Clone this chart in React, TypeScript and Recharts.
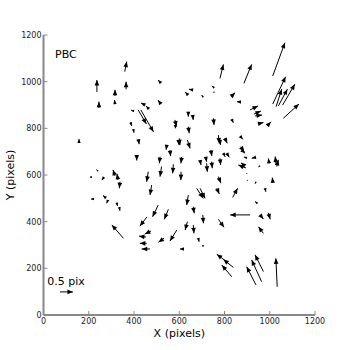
import React from 'react';
import { LineChart, Line, XAxis, YAxis } from 'recharts';

// tail positions (pixels) and displacement (pixels, already scaled for the plot)
const arrowX = [
  236, 359, 365, 519, 316, 245, 316, 449, 466, 519, 400, 418, 430, 385, 397, 581,
  1013, 780, 886, 1013, 1028, 1038, 1057, 1060, 754, 755, 661, 639, 705, 829, 873, 913,
  930, 935, 948, 988, 640, 659, 751, 832, 640, 157, 419, 412, 545, 559, 515, 574,
  596, 241, 214, 316, 329, 267, 338, 463, 522, 478, 223, 276, 285, 324, 335, 507,
  552, 600, 636, 773, 780, 802, 869, 872, 876, 611, 740, 692, 717, 721, 743, 780,
  795, 810, 608, 899, 939, 895, 891, 957, 997, 1028, 1031, 773, 898, 901, 939, 1014,
  979, 677, 692, 766, 836, 640, 662, 704, 945, 913, 957, 994, 457, 353, 453, 475,
  533, 456, 471, 589, 636, 662, 773, 621, 684, 705, 972, 810, 839, 832, 939, 964,
  972, 1033, 581,
];
const arrowY = [
  956, 1043, 967, 994, 939, 887, 904, 900, 883, 904, 874, 879, 879, 825, 796, 836,
  1024, 1014, 993, 904, 893, 896, 900, 843, 973, 955, 964, 943, 934, 936, 913, 879,
  861, 853, 819, 810, 871, 857, 843, 839, 807, 737, 753, 686, 729, 707, 678, 646,
  750, 617, 591, 596, 579, 591, 571, 614, 636, 557, 497, 501, 493, 481, 462, 471,
  453, 757, 750, 771, 750, 757, 767, 721, 707, 678, 707, 664, 678, 650, 657, 672,
  693, 693, 614, 673, 676, 630, 639, 639, 650, 643, 636, 593, 607, 579, 571, 567,
  543, 543, 543, 543, 504, 514, 464, 429, 479, 429, 429, 438, 420, 329, 334, 360,
  329, 307, 283, 364, 400, 386, 410, 283, 329, 300, 350, 228, 204, 164, 129, 143,
  186, 121, 814,
];
const arrowU = [
  0, 9, 0, -13, 0, 0, -2, -18, -13, -13, -13, 37, 56, 5, 3, 7,
  54, 15, 34, 57, 25, 40, 54, 69, -9, -4, -18, -13, -6, 18, -18, 35,
  31, 31, 24, 18, 0, 3, 3, 7, 4, 0, 4, 0, -3, 3, -3, -3,
  3, -7, -9, -9, -4, -9, -3, -7, -7, -7, -13, -13, -6, 3, 3, -25,
  -18, 3, 12, 4, 2, 10, 12, 15, 15, -4, 4, 4, 4, 3, 3, 3,
  8, 11, -1, -13, -19, -34, -18, -7, -3, -4, 7, 11, 2, 0, -4, -3,
  4, 29, 22, 11, 22, -7, 4, 3, -10, -88, 15, 8, -31, -51, -31, -27,
  -25, -30, -37, -30, -10, 3, 25, -18, 4, 0, -22, -44, -44, -44, -41, -44,
  -37, -6, 3,
];
const arrowV = [
  51, 43, 33, 13, 26, 27, 17, 9, 13, 17, 4, -60, -94, -15, -15, -29,
  143, 60, 81, 117, 75, 72, 89, 61, 9, 0, 4, 13, 9, 17, 1, 17,
  13, 4, 6, 18, -21, -21, -29, -15, -28, 17, -21, -24, -21, -26, -28, -39,
  -21, 6, 0, 26, 26, -13, -28, -43, -43, -43, 0, 11, -14, -14, -15, -50,
  -43, -29, -36, -36, -21, -21, -14, -21, -14, -28, -26, -21, -21, -36, -28, -29,
  -15, -17, -36, 4, -4, 13, 13, -4, 21, 36, 29, -28, -2, -3, -8, 22,
  -15, -43, -43, -24, 39, -43, -28, -36, 7, 0, -18, -28, -39, 57, 4, -13,
  -17, 0, 0, -47, -36, -36, -34, 0, -15, -8, 28, 32, 34, 50, 78, 93,
  72, 122, -14,
];

// the "0.5 pix" key arrow
const keyX = [73];
const keyY = [99];
const keyU = [57];
const keyV = [0];

const axisTicks = [0, 200, 400, 600, 800, 1000, 1200];

const FONT = '"DejaVu Sans", Verdana, sans-serif';
const FRAME = '#888';

const allX = arrowX.concat(keyX);
const allY = arrowY.concat(keyY);
const allU = arrowU.concat(keyU);
const allV = arrowV.concat(keyV);

const segments = allX.map((x, i) => [
  { x, y: allY[i], u: allU[i], v: allV[i] },
  { x: x + allU[i], y: allY[i] + allV[i], u: allU[i], v: allV[i] },
]);

const ArrowHead = (props: any) => {
  const { cx, cy, index, points, payload } = props;
  if (index !== 1 || cx == null || cy == null) return <g key={`d-${index}`} />;
  let dx: number;
  let dy: number;
  if (points && points[0] && points[0].x != null) {
    dx = cx - points[0].x;
    dy = cy - points[0].y;
  } else {
    dx = (payload.u * 271.5) / 1200;
    dy = (-payload.v * 280) / 1200;
  }
  const len = Math.hypot(dx, dy);
  if (len < 0.3) return <circle key={`d-${index}`} cx={cx} cy={cy} r={0.6} fill="#000" />;
  const ux = dx / len;
  const uy = dy / len;
  const hl = Math.min(5.5, len);
  const hw = Math.max(hl * 0.42, 0.8);
  const bx = cx - ux * hl;
  const by = cy - uy * hl;
  const pts = `${cx},${cy} ${bx - uy * hw},${by + ux * hw} ${bx + uy * hw},${by - ux * hw}`;
  return <polygon key={`d-${index}`} points={pts} fill="#000" />;
};

const BottomTick = (props: any) => {
  const { x, y, payload } = props;
  return (
    <g>
      <line x1={x} y1={y} x2={x} y2={y - 4} stroke={FRAME} strokeWidth={1} />
      <text x={x} y={y + 9} textAnchor="middle" fontSize={8} fontFamily={FONT} fill="#222">
        {payload.value}
      </text>
    </g>
  );
};

const TopTick = (props: any) => {
  const { x, y } = props;
  return <line x1={x} y1={y} x2={x} y2={y + 4} stroke={FRAME} strokeWidth={1} />;
};

const LeftTick = (props: any) => {
  const { x, y, payload } = props;
  return (
    <g>
      <line x1={x} y1={y} x2={x + 4} y2={y} stroke={FRAME} strokeWidth={1} />
      <text x={x - 2} y={y + 3} textAnchor="end" fontSize={8} fontFamily={FONT} fill="#222">
        {payload.value}
      </text>
    </g>
  );
};

const RightTick = (props: any) => {
  const { x, y } = props;
  return <line x1={x} y1={y} x2={x - 4} y2={y} stroke={FRAME} strokeWidth={1} />;
};

export default function App() {
  return (
    <div style={{ position: 'absolute', left: 0, top: 0, width: 350, height: 350, background: '#fff' }}>
      <LineChart width={350} height={350} margin={{ top: 35, right: 35, bottom: 0, left: 0 }}>
        <XAxis
          dataKey="x"
          type="number"
          domain={[0, 1200]}
          ticks={axisTicks}
          height={35}
          tickSize={0}
          tickMargin={0}
          tickLine={false}
          axisLine={{ stroke: FRAME, strokeWidth: 2 }}
          tick={<BottomTick />}
          interval={0}
        />
        <XAxis
          xAxisId="top"
          orientation="top"
          dataKey="x"
          type="number"
          domain={[0, 1200]}
          ticks={axisTicks}
          height={0}
          tickSize={0}
          tickMargin={0}
          tickLine={false}
          axisLine={{ stroke: FRAME, strokeWidth: 2 }}
          tick={<TopTick />}
          interval={0}
        />
        <YAxis
          type="number"
          domain={[0, 1200]}
          ticks={axisTicks}
          width={43.5}
          tickSize={0}
          tickMargin={0}
          tickLine={false}
          axisLine={{ stroke: FRAME, strokeWidth: 2 }}
          tick={<LeftTick />}
          interval={0}
        />
        <YAxis
          yAxisId="right"
          orientation="right"
          type="number"
          domain={[0, 1200]}
          ticks={axisTicks}
          width={0}
          tickSize={0}
          tickMargin={0}
          tickLine={false}
          axisLine={{ stroke: FRAME, strokeWidth: 2 }}
          tick={<RightTick />}
          interval={0}
        />
        {segments.map((seg, i) => (
          <Line
            key={`arrow-${i}`}
            data={seg}
            dataKey="y"
            type="linear"
            stroke="#000"
            strokeWidth={1}
            dot={ArrowHead}
            activeDot={false}
            isAnimationActive={false}
          />
        ))}
      </LineChart>
      <svg
        width={350}
        height={350}
        style={{ position: 'absolute', left: 0, top: 0, pointerEvents: 'none' }}
      >
        <text x={55} y={58.3} fontSize={11} fontFamily={FONT} fill="#000">PBC</text>
        <text x={47.3} y={285} fontSize={11} fontFamily={FONT} fill="#000">0.5 pix</text>
        <text x={179.3} y={336.5} fontSize={11} fontFamily={FONT} fill="#000" textAnchor="middle">
          X (pixels)
        </text>
        <text
          x={0}
          y={0}
          fontSize={11}
          fontFamily={FONT}
          fill="#000"
          textAnchor="middle"
          transform="translate(13.6,175) rotate(-90)"
        >
          Y (pixels)
        </text>
      </svg>
    </div>
  );
}
